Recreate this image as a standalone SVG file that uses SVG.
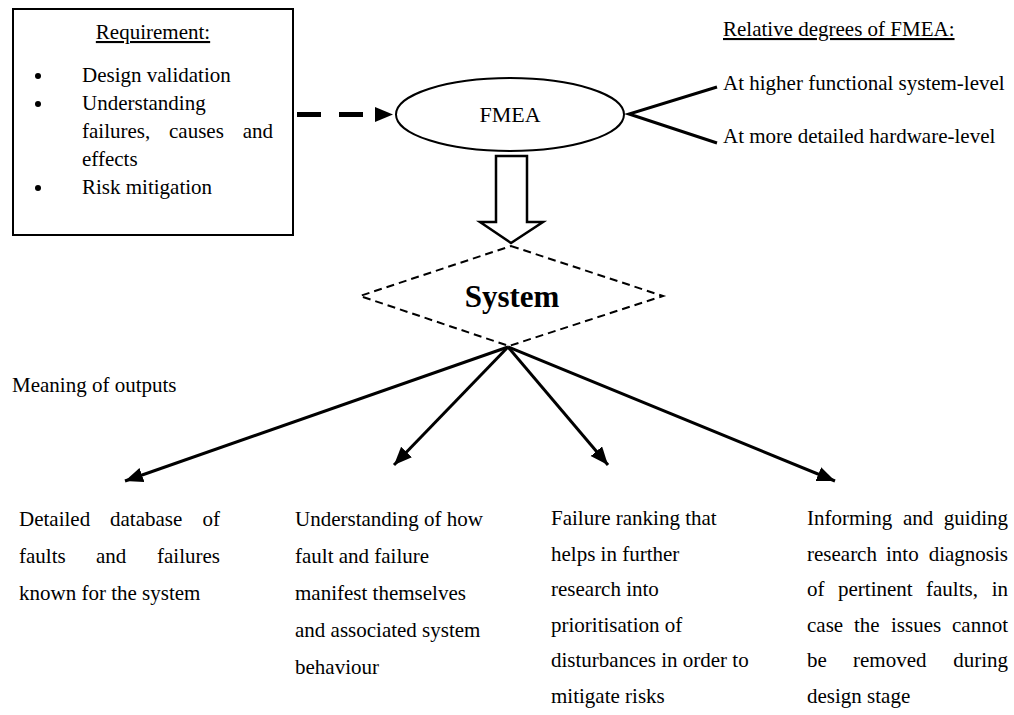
<svg xmlns="http://www.w3.org/2000/svg" width="1014" height="715" viewBox="0 0 1014 715">
  <style>
    text { font-family: "Liberation Serif", "Times New Roman", serif; font-size: 21px; fill: #000; }
    text.ul { text-decoration: underline; }
    text.fm { font-size: 22px; }
    text.sys { font-size: 31px; font-weight: bold; }
    .edge { stroke: #000; fill: none; }
    .out { stroke-width: 3; marker-end: url(#head); }
  </style>
  <defs>
    <marker id="head" markerUnits="userSpaceOnUse" markerWidth="20" markerHeight="16" refX="18" refY="7.5" orient="auto">
      <path d="M0,0 L18,7.5 L0,15 Z" fill="#000"/>
    </marker>
  </defs>

  <rect width="1014" height="715" fill="#fff"/>

  <!-- requirement box -->
  <g id="requirements">
    <rect x="13" y="9" width="280" height="226" fill="#fff" stroke="#000" stroke-width="2"/>
    <text x="153" y="39" text-anchor="middle" class="ul">Requirement:</text>
    <circle cx="38" cy="76" r="3"/>
    <circle cx="38" cy="104" r="3"/>
    <circle cx="38" cy="188" r="3"/>
    <text x="82" y="82">Design validation</text>
    <text x="82" y="110">Understanding</text>
    <text x="82" y="138">failures,</text>
    <text x="169" y="138">causes</text>
    <text x="273" y="138" text-anchor="end">and</text>
    <text x="82" y="166">effects</text>
    <text x="82" y="194">Risk mitigation</text>
  </g>

  <!-- FMEA ellipse -->
  <g id="fmea">
    <ellipse cx="510" cy="114.5" rx="114" ry="36.5" fill="#fff" stroke="#000" stroke-width="2"/>
    <text x="510" y="122" text-anchor="middle" class="fm">FMEA</text>
  </g>

  <!-- degrees of FMEA -->
  <g id="degrees">
    <text x="723" y="36" class="ul">Relative degrees of FMEA:</text>
    <text x="723" y="90">At higher functional system-level</text>
    <text x="723" y="143">At more detailed hardware-level</text>
  </g>

  <!-- system diamond -->
  <g id="system">
    <polygon points="511,246 663,296 509,346 360,296" fill="#fff" stroke="#000" stroke-width="2" stroke-dasharray="8 5"/>
    <text x="512" y="307" text-anchor="middle" class="sys">System</text>
  </g>

  <text x="12" y="392">Meaning of outputs</text>

  <!-- output 1: justified column -->
  <g id="out1">
    <text x="19" y="526">Detailed</text>
    <text x="110" y="526">database</text>
    <text x="220" y="526" text-anchor="end">of</text>
    <text x="19" y="563">faults</text>
    <text x="96" y="563">and</text>
    <text x="220" y="563" text-anchor="end">failures</text>
    <text x="19" y="600">known for the system</text>
  </g>

  <g id="out2">
    <text x="295" y="526">Understanding of how</text>
    <text x="295" y="563">fault and failure</text>
    <text x="295" y="600">manifest themselves</text>
    <text x="295" y="637">and associated system</text>
    <text x="295" y="674">behaviour</text>
  </g>

  <g id="out3">
    <text x="551" y="525">Failure ranking that</text>
    <text x="551" y="560.5">helps in further</text>
    <text x="551" y="596">research into</text>
    <text x="551" y="631.5">prioritisation of</text>
    <text x="551" y="667">disturbances in order to</text>
    <text x="551" y="702.5">mitigate risks</text>
  </g>

  <!-- output 4: justified column -->
  <g id="out4">
    <text x="807" y="525">Informing</text>
    <text x="903" y="525">and</text>
    <text x="1008" y="525" text-anchor="end">guiding</text>
    <text x="807" y="560.5">research</text>
    <text x="886" y="560.5">into</text>
    <text x="1008" y="560.5" text-anchor="end">diagnosis</text>
    <text x="807" y="596">of</text>
    <text x="838" y="596">pertinent</text>
    <text x="926" y="596">faults,</text>
    <text x="1008" y="596" text-anchor="end">in</text>
    <text x="807" y="631.5">case</text>
    <text x="854" y="631.5">the</text>
    <text x="891" y="631.5">issues</text>
    <text x="1008" y="631.5" text-anchor="end">cannot</text>
    <text x="807" y="667">be</text>
    <text x="853" y="667">removed</text>
    <text x="1008" y="667" text-anchor="end">during</text>
    <text x="807" y="702.5">design stage</text>
  </g>

  <!-- connectors -->
  <g id="connectors">
    <!-- requirements feed into FMEA -->
    <line class="edge" x1="297" y1="114.5" x2="363" y2="114.5" stroke-width="5" stroke-dasharray="24 18"/>
    <polygon points="375,107 393,114.5 375,122" fill="#000"/>
    <!-- FMEA splits into two levels -->
    <polyline class="edge" points="717,87 629,114 717,143" stroke-width="3"/>
    <!-- FMEA applied to system -->
    <polygon points="496,156 527,156 527,222 543,222 511,243 480,222 496,222" fill="#fff" stroke="#000" stroke-width="2.5"/>
    <!-- system outputs -->
    <line class="edge out" x1="508" y1="347" x2="125" y2="481"/>
    <line class="edge out" x1="508" y1="347" x2="394" y2="465"/>
    <line class="edge out" x1="508" y1="347" x2="608" y2="465"/>
    <line class="edge out" x1="508" y1="347" x2="835" y2="481"/>
  </g>
</svg>
